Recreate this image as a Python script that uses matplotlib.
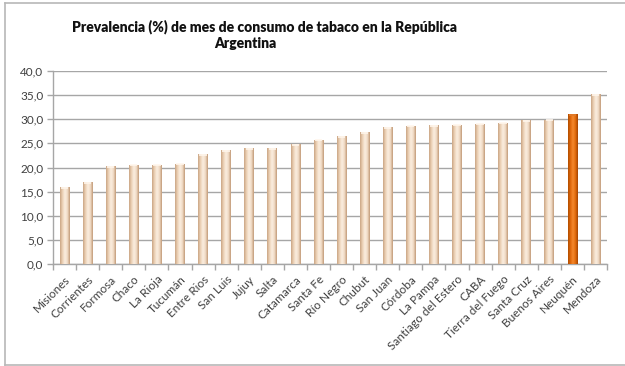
import numpy as np
import matplotlib
matplotlib.use("Agg")
import matplotlib.pyplot as plt
from matplotlib.colors import LinearSegmentedColormap
from matplotlib.ticker import FixedLocator, FuncFormatter

provincias = ["Misiones", "Corrientes", "Formosa", "Chaco", "La Rioja", "Tucumán",
              "Entre Rios", "San Luis", "Jujuy", "Salta", "Catamarca", "Santa Fe",
              "Río Negro", "Chubut", "San Juan", "Córdoba", "La Pampa",
              "Santiago del Estero", "CABA", "Tierra del Fuego", "Santa Cruz",
              "Buenos Aires", "Neuquén", "Mendoza"]
prevalencia = [16.0, 16.9, 20.3, 20.6, 20.6, 20.8, 22.7, 23.6, 24.0, 24.0, 24.8, 25.8,
               26.5, 27.4, 28.3, 28.7, 28.8, 28.9, 29.1, 29.3, 29.8, 29.9, 31.0, 35.2]
destacada = "Neuquén"
y_ticks = [0, 5, 10, 15, 20, 25, 30, 35, 40]

plt.rcParams["font.family"] = ["Lato", "DejaVu Sans"]

fig = plt.figure(figsize=(6.25, 3.66), dpi=100)
fig.patch.set_facecolor("white")

# outer frame of the chart area
frame_col = "#b8b8b8"
fig.add_artist(plt.Line2D([5/625, 5/625], [1 - 3/366, 1 - 365/366], color=frame_col, lw=1.2, transform=fig.transFigure))
fig.add_artist(plt.Line2D([5/625, 1.0], [1 - 3/366, 1 - 3/366], color=frame_col, lw=1.2, transform=fig.transFigure))
fig.add_artist(plt.Line2D([5/625, 1.0], [1 - 365/366, 1 - 365/366], color=frame_col, lw=1.2, transform=fig.transFigure))

ax = fig.add_axes([53/625, 1 - 264/366, (607 - 53)/625, (264 - 71)/366])

x = np.arange(len(provincias))
width = 0.42
bars = ax.bar(x, prevalencia, width=width, color="none", edgecolor="none", zorder=3)

beige = LinearSegmentedColormap.from_list("beige", ["#caa584", "#ecd1b6", "#fbeee0", "#f1dcc6", "#c29a78"])
naranja = LinearSegmentedColormap.from_list("naranja", ["#b04c00", "#e0680a", "#f5892e", "#e26c0c", "#a44400"])
grad = np.linspace(0, 1, 64).reshape(1, -1)

for xi, val, name, b in zip(x, prevalencia, provincias, bars):
    cmap = naranja if name == destacada else beige
    im = ax.imshow(grad, cmap=cmap, aspect="auto", interpolation="bilinear",
                   extent=(xi - width/2, xi + width/2, 0, val), zorder=3)
    im.set_clip_path(b)
    # light bevel at the top of each bar
    top_col = "#e07a28" if name == destacada else "#fff6ec"
    ax.plot([xi - width/2 + 0.05, xi + width/2 - 0.05], [val - 0.15, val - 0.15],
            color=top_col, lw=1.2, zorder=4, solid_capstyle="butt")

ax.set_xlim(-0.5, len(provincias) - 0.5)
ax.set_ylim(0, 40)

grid_col = "#a6a6a6"
ax.yaxis.set_major_locator(FixedLocator(y_ticks))
ax.yaxis.set_major_formatter(FuncFormatter(lambda v, p: f"{v:.1f}".replace(".", ",")))
ax.grid(axis="y", color=grid_col, lw=1.0, zorder=0)
ax.set_axisbelow(True)

for s in ["top", "right"]:
    ax.spines[s].set_visible(False)
ax.spines["left"].set_color(grid_col)
ax.spines["bottom"].set_color(grid_col)
ax.spines["left"].set_linewidth(1.0)
ax.spines["bottom"].set_linewidth(1.0)

ax.set_xticks(x)
ax.set_xticklabels(provincias, rotation=45, ha="right", rotation_mode="anchor",
                   fontsize=8.5, color="#404040")
ax.tick_params(axis="x", which="major", length=0, pad=7)
ax.set_xticks(np.arange(-0.5, len(provincias)), minor=True)
ax.tick_params(axis="x", which="minor", length=4, color=grid_col, width=1.0)
ax.tick_params(axis="y", length=4, color=grid_col, width=1.0, labelsize=8.5, labelcolor="#404040", pad=3)

fig.text(265/625, 1 - 27/366, "Prevalencia (%) de mes de consumo de tabaco en la República",
         ha="center", va="center", fontsize=10, fontweight="heavy", color="#111111")
fig.text(245/625, 1 - 44/366, "Argentina",
         ha="center", va="center", fontsize=10, fontweight="heavy", color="#111111")

fig.savefig("out.png", dpi=100, facecolor="white")
